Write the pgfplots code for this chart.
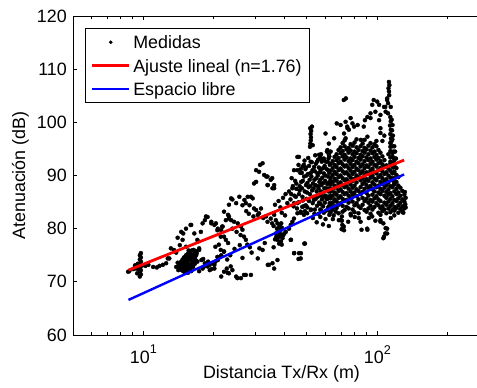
\documentclass[border=0pt]{standalone}
\usepackage{pgfplots}
\pgfplotsset{compat=1.18}
\usepackage{fontspec}
\setmainfont{Liberation Sans}
\newcommand{\ff}{\fontsize{13.4}{15}\selectfont}
\newcommand{\supx}[1]{\raisebox{1.0ex}{\fontsize{9.5}{9.5}\selectfont #1}}
\pgfplotsset{
  dotleg/.style={legend image code/.code={\draw[##1, mark size=1.2pt] plot coordinates {(13.875pt,0pt)};}},
  lineleg/.style={legend image code/.code={\draw[##1] (0pt,0pt) -- (27.75pt,0pt);}},
}
\begin{document}
\ff
\begin{tikzpicture}[font=\ff]
\begin{axis}[
  name=ax,
  clip marker paths=true,
  scale only axis, width=303pt, height=239.25pt,
  xmode=log, xmin=5, xmax=266.4, ymin=60, ymax=120,
  axis x line*=box, axis y line*=left,
  axis line style={-, line width=0.75pt},
  xtick={10,100},
  xticklabels={{\ff 10\supx{1}}, {\ff 10\supx{2}}},
  minor xtick={5,6,7,8,9,20,30,40,50,60,70,80,90,200},
  ytick={60,70,80,90,100,110,120},
  yticklabels={{\ff 60},{\ff 70},{\ff 80},{\ff 90},{\ff 100},{\ff 110},{\ff 120}},
  tick align=inside,
  major tick length=3.2pt, minor tick length=2pt,
  tick style={black, line width=0.75pt},
  xticklabel style={yshift=-3pt},
  label style={font=\ff},
  xlabel={Distancia Tx/Rx (m)},
  ylabel={Atenuación (dB)},
  xlabel style={at={(axis description cs:0.516,-0.121)}, anchor=center},
  ylabel style={at={(axis description cs:-0.130,0.5)}, anchor=center},
  legend style={at={(0.0297,0.9624)}, anchor=north west, draw=black, line width=0.75pt,
    fill=white, inner xsep=4pt, inner ysep=1.5pt, font=\ff, cells={anchor=west},
    column sep=0pt, nodes={inner xsep=2pt, inner ysep=0pt, text height=13.6pt, text depth=4pt}},
]
\addplot[only marks, mark=*, mark size=1.5pt, mark options={line width=0.3pt, fill=black, draw=black}, dotleg]
coordinates {
(8.6,71.9)(8.7,72.0)(9.03,72.4)(9.1,72.5)(9.2,73.1)(9.33,72.5)(9.4,71.6)(9.5,72.8)(9.45,73.4)(9.55,72.4)(9.9,73.1)
(9.65,71.0)(9.75,71.4)(9.65,71.8)(9.75,72.2)(9.65,72.6)(9.75,73.0)(9.65,73.4)(9.75,73.8)(9.65,74.2)(9.75,74.6)(9.65,75.0)(9.75,75.4)
(10.2,73.0)(10.5,73.2)(11.0,72.8)(11.4,72.7)(11.7,73.0)(12.1,73.2)(12.5,73.5)(12.7,74.4)(12.9,74.4)(13.1,76.3)
(13.5,76.0)(14.3,76.9)(14.8,79.1)(15.2,80.0)(16.0,80.7)(16.5,79.1)(17.1,77.6)(13.8,75.5)(14.0,78.3)
(14.5,79.4)(14.7,77.9)(15.9,80.7)(17.6,79.4)(18.3,81.6)(18.5,82.3)(19.5,81.3)(20.4,81.0)(20.7,79.7)(21.4,78.5)(21.8,80.4)
(17.0,77.9)(17.3,76.3)(15.2,76.6)(17.9,81.0)(18.8,82.2)(19.5,81.0)(20.1,80.7)(20.8,80.0)(21.5,79.7)
(14.2,73.0)(14.4,72.5)(14.6,72.2)(14.8,72.0)(15.0,71.8)(15.2,72.0)(15.4,72.3)(15.6,72.6)(15.8,73.0)(16.0,73.4)(16.2,73.8)
(16.4,74.2)(16.6,74.6)(16.8,75.0)(16.9,75.4)(16.7,75.8)(16.4,76.0)(16.1,75.9)(15.8,75.6)(15.5,75.3)(15.2,75.0)(14.9,74.6)
(14.7,74.2)(14.5,73.8)(14.3,73.4)(15.0,73.2)(15.3,73.6)(15.6,74.0)(15.9,74.3)(15.4,72.9)(14.9,73.5)(15.1,74.2)(15.7,72.3)
(16.3,72.8)(16.6,73.4)(17.0,73.8)(14.0,73.6)(13.8,72.8)(14.1,72.2)(15.5,71.7)(16.0,72.0)(15.3,74.5)(15.9,75.1)(17.3,76.0)
(15.0,74.0)(15.5,73.2)(16.0,74.6)(15.2,72.6)(16.2,73.2)(14.8,73.0)(16.5,75.3)(15.6,74.8)(14.6,73.3)(15.9,72.6)(16.8,74.0)
(16.1,75.0)(15.3,73.9)(16.4,73.6)(15.6,75.9)(14.9,72.5)
(17.7,74.1)(18.3,73.5)(19.2,73.2)(19.8,73.5)(20.8,74.1)(21.5,75.0)(22.1,75.7)(18.0,74.3)(18.9,73.8)(20.3,73.8)(21.1,74.6)(19.5,72.4)
(17.9,72.5)(18.8,72.9)(20.1,73.2)(19.2,72.2)(20.1,72.5)(21.5,71.0)(22.1,71.9)(22.7,72.5)(22.9,71.7)(23.6,72.9)(23.2,71.6)
(24.0,72.2)(24.9,71.0)(25.2,70.7)(26.1,70.7)(26.9,71.3)(27.4,71.3)(28.8,71.3)(17.3,72.0)(18.2,72.9)(22.1,75.7)(21.4,76.0)(20.7,74.7)
(21.7,80.4)(22.1,78.5)(22.5,77.9)(23.0,77.3)(22.1,83.2)(23.0,82.6)(23.2,82.3)(24.4,81.3)(25.3,81.0)(23.7,81.6)(26.1,80.4)
(26.5,79.8)(26.9,78.5)(27.4,77.9)(22.5,81.6)(23.2,81.9)(24.0,80.0)(25.0,79.4)(26.0,78.8)(27.8,77.0)(28.5,76.5)(29.0,75.5)
(23.5,75.0)(24.5,76.2)(25.8,76.9)(26.5,74.5)(22.8,74.2)(21.0,77.0)(20.3,76.6)
(23.7,85.7)(24.9,84.8)(25.7,86.0)(27.0,85.4)(27.9,86.0)(28.8,86.0)(29.3,85.7)(27.4,84.8)(26.5,84.4)(28.4,84.4)(29.7,83.8)
(30.3,83.5)(31.2,82.9)(24.0,85.5)(23.2,84.5)
(30.3,91.0)(31.2,90.7)(32.8,90.1)(33.9,89.8)(35.0,89.2)(35.6,87.6)(36.2,88.2)(30.3,88.8)(29.7,88.5)(33.9,88.2)(32.3,92.3)(31.5,92.0)
(33.5,89.8)(34.0,88.2)(35.5,89.5)(36.2,87.6)
(33.4,82.3)(33.9,81.3)(35.0,81.9)(36.2,82.6)(36.8,81.6)(37.4,81.0)(38.1,80.4)(38.7,79.8)(36.8,79.1)(38.1,78.5)(37.4,77.9)
(38.7,77.6)(39.3,78.2)(40.0,79.1)(40.6,79.4)(41.9,80.0)(42.6,80.7)(43.3,81.3)(44.0,81.9)(45.5,82.9)(47.0,83.2)(48.5,82.6)
(50.1,82.9)(51.9,83.5)(47.7,84.1)(49.4,84.4)
(37.0,78.5)(37.8,79.3)(38.4,79.0)(39.0,80.2)(39.6,78.8)(38.0,77.2)(39.0,77.0)(37.2,80.0)(36.5,78.0)(38.8,81.0)(36.0,80.5)(35.5,81.0)
(30.8,82.6)(31.8,83.8)(32.5,82.0)(29.5,82.3)(28.2,82.8)(27.5,83.3)
(36.5,84.5)(37.8,85.2)(38.5,84.0)(39.5,85.8)(40.5,86.5)(41.2,84.8)(39.0,83.0)(40.3,82.5)(41.9,87.0)(43.3,87.6)(44.8,86.0)
(42.5,85.5)(43.8,84.2)(45.5,84.8)(46.2,86.5)(45.0,88.5)(46.5,88.0)
(32.3,76.0)(34.4,73.2)(36.2,72.5)(30.8,74.4)(34.0,73.2)(35.6,73.5)(37.4,74.1)(42.6,77.9)(44.0,75.4)(46.2,75.4)(47.0,74.4)
(44.1,75.4)(47.1,75.4)(46.0,74.3)(48.7,77.2)(42.7,77.9)(49.0,77.2)(36.0,76.5)(33.0,77.3)(31.3,76.3)
(45.5,93.5)(46.2,93.5)(44.0,91.0)(47.5,90.5)(48.5,92.0)(43.0,89.5)(49.5,91.5)(48.0,89.0)(47.9,91.7)
(51.5,95.4)(51.7,96.0)(51.9,96.6)(52.0,97.2)(51.8,97.8)(52.1,98.4)(51.6,98.9)(52.9,95.7)(52.5,99.2)
(46.0,92.0)(46.8,90.5)(47.2,88.8)(46.5,87.2)(47.8,86.0)(46.2,85.0)(48.3,84.2)(47.0,83.0)
(48.8,92.8)(49.2,91.2)(48.6,89.8)(49.5,88.2)(48.9,87.0)(49.8,85.6)(50.2,84.0)(49.0,83.3)
(50.6,93.3)(51.0,91.8)(50.5,90.3)(51.3,89.2)(50.8,87.8)(51.5,86.5)(51.0,85.2)(52.0,83.6)
(52.4,92.5)(52.8,91.0)(52.2,89.8)(53.0,88.5)(52.6,87.2)(53.3,86.0)(52.9,84.8)(53.8,82.8)
(54.2,93.8)(54.6,92.2)(54.0,90.8)(54.8,89.5)(54.3,88.2)(55.0,87.0)(54.5,85.6)(55.2,84.3)
(55.8,93.0)(56.2,91.5)(55.6,90.0)(56.5,88.8)(56.0,87.6)(56.8,86.2)(56.3,84.9)(57.0,83.6)
(57.4,94.0)(57.8,92.6)(57.2,91.0)(58.1,89.6)(57.6,88.2)(58.4,86.8)(57.9,85.5)(58.6,84.2)
(59.0,93.2)(59.5,91.8)(59.0,90.4)(59.8,89.0)(59.3,87.6)(60.1,86.2)(59.6,84.9)(60.4,83.4)
(60.8,94.5)(61.2,92.6)(60.7,91.2)(61.5,89.8)(61.0,88.4)(61.8,87.0)(61.3,85.6)(62.0,84.2)
(62.3,93.6)(62.6,92.0)(62.2,90.5)(62.8,89.0)(62.4,87.6)(62.9,86.2)(62.5,84.8)(62.8,83.2)
(47.0,91.2)(47.6,87.6)(48.0,85.3)(49.8,90.0)(50.2,88.6)(50.0,86.8)(51.8,92.6)(52.0,90.5)(51.6,88.0)(53.6,91.6)(53.8,89.2)
(53.4,87.6)(53.5,85.4)(55.2,92.6)(55.4,90.4)(55.8,88.0)(55.5,86.0)(57.0,93.4)(56.9,90.6)(57.0,89.2)(57.3,87.0)(57.2,84.6)
(58.6,91.4)(58.7,88.6)(58.8,86.0)(60.2,92.6)(60.0,90.0)(60.5,87.6)(60.6,85.6)(61.8,93.2)(61.6,91.0)(61.9,88.6)(62.0,86.0)
(61.6,84.0)(56,82.8)(59,83.0)(54,83.6)
(44.5,89.0)(45.0,87.5)(44.2,86.2)(45.5,91.0)(43.5,88.0)(42.8,86.5)(44.0,84.8)(45.3,83.8)
(53,82.0)(55,81.2)(57,82.2)(58.5,80.8)(60,81.8)(62,80.5)(57.3,83.5)(62.3,82.6)
(63.1,83.1)(68.2,82.9)(71.0,83.2)(76.8,82.8)(79.8,83.1)(83.0,82.9)(89.8,83.2)(93.4,82.8)(101,83.0)(105,83.3)(109.2,82.9)(113.6,83.1)(118.1,83.4)(122.8,83.0)(127.8,83.2)
(64.4,83.6)(66.9,83.9)(72.4,83.5)(75.3,83.8)(78.3,83.6)(84.7,83.9)(88.1,83.5)(91.5,83.8)(95.2,83.6)(103,83.9)(107.1,83.6)(111.4,83.8)(115.8,83.5)(120.5,83.9)(125.3,83.7)(130.3,83.8)
(63.1,84.4)(65.6,84.2)(68.2,84.5)(71.0,84.3)(73.8,84.1)(79.8,84.4)(83.0,84.2)(86.4,84.5)(93.4,84.3)(97.1,84.1)(101,84.4)(105,84.2)(109.2,84.5)(113.6,84.3)(118.1,84.1)(122.8,84.4)(127.8,84.2)
(64.4,84.9)(66.9,85.1)(69.6,84.8)(72.4,85.2)(75.3,84.9)(78.3,85.1)(81.4,84.8)(88.1,85.2)(91.5,84.9)(95.2,85.1)(99.0,84.8)(103,85.2)(107.1,84.9)(111.4,85.1)(115.8,84.8)(120.5,85.2)(125.3,84.9)(130.3,85.1)
(63.1,85.7)(65.6,85.5)(68.2,85.8)(71.0,85.6)(73.8,85.4)(76.8,85.7)(83.0,85.5)(86.4,85.8)(89.8,85.6)(93.4,85.4)(97.1,85.7)(101,85.5)(109.2,85.8)(113.6,85.6)(118.1,85.4)(122.8,85.7)(127.8,85.5)
(64.4,86.2)(66.9,86.4)(69.6,86.1)(72.4,86.5)(75.3,86.2)(78.3,86.4)(81.4,86.1)(84.7,86.5)(91.5,86.2)(95.2,86.4)(99.0,86.1)(103,86.5)(107.1,86.2)(111.4,86.4)(115.8,86.1)(120.5,86.5)(125.3,86.2)(130.3,86.4)
(63.1,87.0)(65.6,86.8)(68.2,87.1)(71.0,86.9)(73.8,86.7)(76.8,87.0)(79.8,86.8)(83.0,87.1)(86.4,86.9)(89.8,86.7)(97.1,87.0)(101,86.8)(105,87.1)(109.2,86.9)(113.6,86.7)(118.1,87.0)(122.8,86.8)(127.8,87.1)
(64.4,87.5)(66.9,87.7)(69.6,87.4)(72.4,87.8)(75.3,87.5)(78.3,87.7)(81.4,87.4)(84.7,87.8)(88.1,87.5)(91.5,87.7)(95.2,87.4)(99.0,87.8)(103,87.5)(107.1,87.7)(111.4,87.4)(115.8,87.8)(120.5,87.5)(125.3,87.7)
(63.1,88.3)(65.6,88.1)(68.2,88.4)(71.0,88.2)(73.8,88.0)(76.8,88.3)(79.8,88.1)(86.4,88.4)(89.8,88.2)(93.4,88.0)(97.1,88.3)(101,88.1)(105,88.4)(109.2,88.2)(113.6,88.0)(118.1,88.3)(122.8,88.1)
(64.4,88.8)(66.9,89.0)(69.6,88.7)(72.4,89.1)(75.3,88.8)(78.3,89.0)(81.4,88.7)(84.7,89.1)(88.1,88.8)(91.5,89.0)(95.2,88.7)(99.0,89.1)(103,88.8)(107.1,89.0)(111.4,88.7)(115.8,89.1)(120.5,88.8)
(63.1,89.6)(65.6,89.4)(68.2,89.7)(71.0,89.5)(73.8,89.3)(76.8,89.6)(79.8,89.4)(83.0,89.7)(86.4,89.5)(89.8,89.3)(93.4,89.6)(97.1,89.4)(101,89.7)(105,89.5)(109.2,89.3)(113.6,89.6)(118.1,89.4)(122.8,89.7)
(64.4,90.1)(66.9,90.3)(69.6,90.0)(72.4,90.4)(75.3,90.1)(78.3,90.3)(81.4,90.0)(84.7,90.4)(88.1,90.1)(91.5,90.3)(95.2,90.0)(99.0,90.4)(103,90.1)(107.1,90.3)(111.4,90.0)(115.8,90.4)(120.5,90.1)
(63.1,90.9)(65.6,90.7)(68.2,91.0)(71.0,90.8)(73.8,90.6)(76.8,90.9)(79.8,90.7)(83.0,91.0)(86.4,90.8)(89.8,90.6)(93.4,90.9)(97.1,90.7)(101,91.0)(105,90.8)(109.2,90.6)(113.6,90.9)(118.1,90.7)
(64.4,91.4)(66.9,91.6)(69.6,91.3)(72.4,91.7)(75.3,91.4)(78.3,91.6)(81.4,91.3)(84.7,91.7)(88.1,91.4)(91.5,91.6)(95.2,91.3)(99.0,91.7)(103,91.4)(107.1,91.6)(111.4,91.3)(115.8,91.7)(120.5,91.4)
(63.1,92.2)(65.6,92.0)(68.2,92.3)(71.0,92.1)(73.8,91.9)(76.8,92.2)(79.8,92.0)(83.0,92.3)(86.4,92.1)(89.8,91.9)(93.4,92.2)(97.1,92.0)(101,92.3)(105,92.1)(109.2,91.9)(113.6,92.2)(118.1,92.0)
(64.4,92.7)(66.9,92.9)(69.6,92.6)(72.4,93.0)(75.3,92.7)(78.3,92.9)(81.4,92.6)(84.7,93.0)(88.1,92.7)(91.5,92.9)(95.2,92.6)(99.0,93.0)(103,92.7)(107.1,92.9)(113.6,92.6)(118.1,93.0)
(65.6,93.5)(68.2,93.3)(71.0,93.6)(73.8,93.4)(76.8,93.2)(79.8,93.5)(83.0,93.3)(86.4,93.6)(89.8,93.4)(93.4,93.2)(97.1,93.5)(101,93.3)(105,93.6)(113.6,93.4)(118.1,93.2)
(66.9,94.0)(69.6,94.2)(72.4,93.9)(75.3,94.3)(78.3,94.0)(81.4,94.2)(84.7,93.9)(88.1,94.3)(91.5,94.0)(95.2,94.2)(99.0,93.9)(103,94.3)(111.4,94.0)(115.8,94.2)
(68.2,94.8)(71.0,94.6)(73.8,94.9)(76.8,94.7)(79.8,94.5)(83.0,94.8)(86.4,94.6)(89.8,94.9)(93.4,94.7)(97.1,94.5)(101,94.8)(113.6,94.6)
(69.6,95.3)(72.4,95.5)(75.3,95.2)(78.3,95.6)(81.4,95.3)(84.7,95.5)(88.1,95.2)(91.5,95.6)(95.2,95.3)(99.0,95.5)(113.6,95.4)
(71.0,96.1)(76.8,95.9)(79.8,96.2)(86.4,96.0)(93.4,96.1)(97.1,95.9)(113.6,96.1)
(72.4,96.6)(81.4,96.8)(88.1,96.7)(99.0,96.5)(115.8,96.8)
(131.5,84.6)(132,85.8)(131,86.9)(129,83.0)(132,84.0)
(69.6,99.5)(73.1,100.1)(74.3,99.2)(72.0,97.9)(73.1,97.0)(75.5,98.6)(61.1,94.8)(63.1,94.5)(62.0,93.9)(56.3,93.9)(57.2,93.2)(58.8,92.9)
(76.8,100.8)(78.2,99.8)(82.3,99.5)(88.4,100.4)(93.4,100.8)(101.6,100.4)(96.4,104.2)(99.8,103.9)(101.6,103.3)(98.0,102.0)(93.4,101.7)(95.0,103.3)
(112,107.6)(112.5,107.0)(111.5,106.4)(112,105.8)(112.3,105.1)(110,104.2)(111,103.6)(108,102.9)(114,102.9)(111,101.7)(113.5,101.0)
(114,100.2)(113.2,99.4)(114,98.6)(113.5,97.8)(114.2,97.0)(113.8,96.2)
(73.3,104.5)(71.8,104.2)(65.3,97.0)(62,96)(60,97.9)(67,99.8)(74.5,98.9)(79.5,99.2)(87.4,99.2)(90.6,101)(103,101.4)(106.7,102.9)(110,104.5)(108.4,102.0)(103,98.9)(90.6,97.3)(85,96.7)
(115,100.5)(116,99.5)(115.5,98.5)(116.5,97.5)(115,96.5)(116,95.5)(117,94.5)(116.2,93.5)(117.5,92.5)(116.8,91.5)(117.8,90.5)(117,89.5)(118,88.5)
(105,96.5)(107,97.5)(103,98.0)(118,95.5)(119,94.5)(120,93.2)
(70.5,82.3)(70.5,81.5)(70.8,80.7)(70.3,79.9)(66.3,83.2)(68.4,81.6)(72,79.7)(65,82.5)(64.5,81.8)(71.8,80.4)(69.8,81.6)
(83.3,82.0)(84.7,81.3)(91.9,82.0)(103,82.6)(103,81.6)(106,81.0)(110,80.0)(108,79.1)(106,78.2)(90.4,80.0)(80,82.2)(77,82.5)
(95,82.3)(98,81.5)(75,81.3)(85.5,79.8)(90.6,79.8)(106.7,78.5)(110,79.1)(108.4,80.1)(103,81.3)(114,82.0)(118,82.5)
};
\addlegendentry{Medidas}
\addplot[red, line width=2.1pt, lineleg]
coordinates {(8.63,72.2) (130,92.9)};
\addlegendentry{Ajuste lineal (n=1.76)}
\addplot[blue, line width=1.8pt, lineleg]
coordinates {(8.63,66.6) (130,90.2)};
\addlegendentry{Espacio libre}
\end{axis}
\pgfresetboundingbox
\path[use as bounding box] ([xshift=-54.75pt,yshift=-39pt]ax.south west) rectangle ([xshift=303pt,yshift=251.25pt]ax.south west);
\end{tikzpicture}
\end{document}
